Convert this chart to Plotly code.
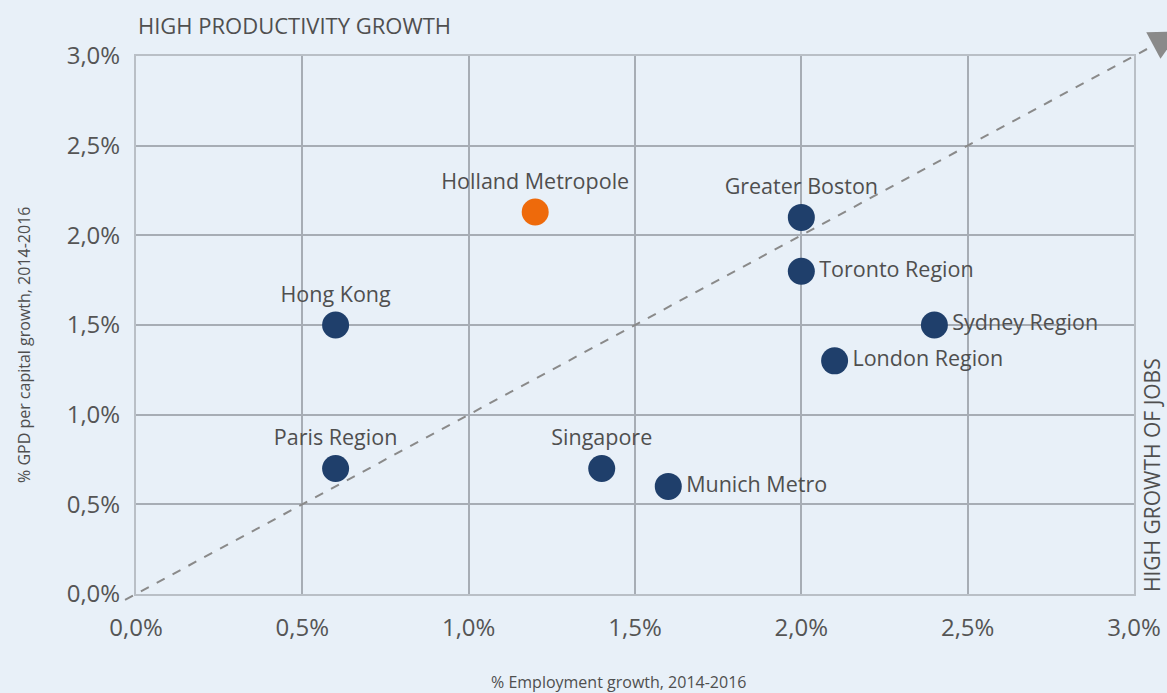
import math
import plotly.graph_objects as go

regions = ["Holland Metropole", "Greater Boston", "Toronto Region", "Sydney Region",
           "London Region", "Hong Kong", "Paris Region", "Singapore", "Munich Metro"]
employment_growth = [1.2, 2.0, 2.0, 2.4, 2.1, 0.6, 0.6, 1.4, 1.6]
gdp_growth = [2.13, 2.1, 1.8, 1.5, 1.3, 1.5, 0.7, 0.7, 0.6]
label_pos = ["top center", "top center", "middle right", "middle right", "middle right",
             "top center", "top center", "top center", "middle right"]
highlight = ["Holland Metropole"]

tick_vals = [0, 0.5, 1.0, 1.5, 2.0, 2.5, 3.0]
axis_max = 3.0

NAVY = "#1f3f6b"
ORANGE = "#ee6a0b"
BG = "#e8f0f8"
GRID = "#a7adb5"
TXT = "#4f4f4f"
FONT = "Open Sans, sans-serif"

colors = [ORANGE if r in highlight else NAVY for r in regions]

fig = go.Figure()
fig.add_trace(go.Scatter(
    x=employment_growth, y=gdp_growth, mode="markers+text",
    text=regions, textposition=label_pos,
    textfont=dict(family=FONT, size=21.5, color=TXT),
    marker=dict(size=27, color=colors, line=dict(width=0)),
    cliponaxis=False, hoverinfo="skip", showlegend=False,
))

W, H = 1167, 693
ml, mr, mt, mb = 136, 33, 56, 99
pw, ph = W - ml - mr, H - mt - mb

# dashed diagonal y = x with arrow head beyond top-right corner
start = -0.011
dxp, dyp = pw / axis_max, ph / axis_max
norm = math.hypot(dxp, dyp)
ex, ey = dxp / norm, dyp / norm
base_len = 22
head_len = 30
half_w = 15
bx, by = 1 + ex * base_len / pw, 1 + ey * base_len / ph
fig.add_shape(type="line", xref="paper", yref="paper",
              x0=start, y0=start, x1=bx, y1=by,
              line=dict(color="#8a8a8a", width=2, dash="dash"))
px_, py_ = -ey, ex
v1 = (bx + px_ * half_w / pw, by + py_ * half_w / ph)
v2 = (bx - px_ * half_w / pw, by - py_ * half_w / ph)
tip = (bx + ex * head_len / pw, by + ey * head_len / ph)
fig.add_shape(type="path", xref="paper", yref="paper",
              path=f"M {v1[0]},{v1[1]} L {tip[0]},{tip[1]} L {v2[0]},{v2[1]} Z",
              fillcolor="#8a8a8a", line=dict(width=0))

tick_text = [f"{v:.1f}".replace(".", ",") + "%" for v in tick_vals]
axis_common = dict(range=[0, axis_max], tickvals=tick_vals, ticktext=tick_text,
                   showgrid=True, gridcolor=GRID, gridwidth=2, zeroline=False,
                   showline=True, linecolor="#b9bfc6", linewidth=2, mirror=True,
                   tickfont=dict(family=FONT, size=24, color="#555555"),
                   ticks="", fixedrange=True, automargin=False)
fig.update_xaxes(**axis_common, ticklabelstandoff=11)
fig.update_yaxes(**axis_common, ticklabelstandoff=9)

fig.add_annotation(text="HIGH PRODUCTIVITY GROWTH", xref="paper", yref="paper",
                   x=0, y=1 + 31 / ph, xanchor="left", yanchor="middle", showarrow=False,
                   font=dict(family=FONT, size=22, color=TXT))
fig.add_annotation(text="HIGH GROWTH OF JOBS", xref="paper", yref="paper",
                   x=1 + 18 / pw, y=0, xanchor="center", yanchor="bottom", textangle=-90,
                   showarrow=False, font=dict(family=FONT, size=21, color=TXT))
fig.add_annotation(text="% Employment growth, 2014-2016", xref="paper", yref="paper",
                   x=(618 - ml) / pw, y=-(682 - (H - mb)) / ph, xanchor="center", yanchor="middle",
                   showarrow=False, font=dict(family=FONT, size=16, color=TXT))
fig.add_annotation(text="% GPD per capital growth, 2014-2016", xref="paper", yref="paper",
                   x=-(ml - 24) / pw, y=(H - mb - 345) / ph, xanchor="center", yanchor="middle",
                   textangle=-90, showarrow=False,
                   font=dict(family=FONT, size=16, color=TXT))

fig.update_layout(width=W, height=H, margin=dict(l=ml, r=mr, t=mt, b=mb, autoexpand=False),
                  paper_bgcolor=BG, plot_bgcolor=BG, showlegend=False)

fig.write_html("out.html", config={"displayModeBar": False},
               post_script="document.body.style.margin='0';document.body.style.overflow='hidden';")
